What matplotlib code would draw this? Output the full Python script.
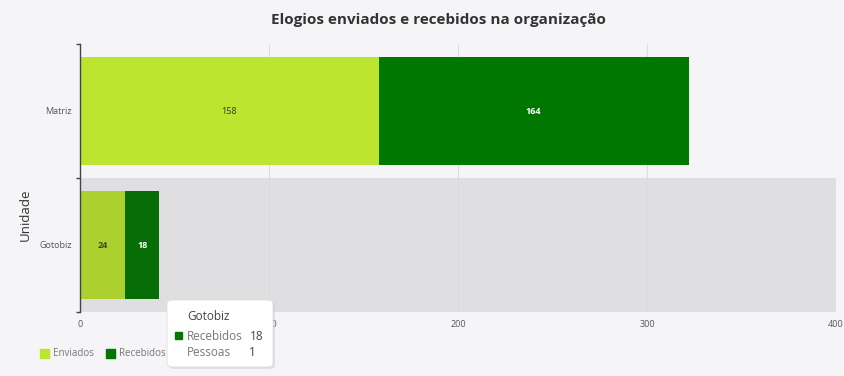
import matplotlib

matplotlib.use("Agg")

import matplotlib.pyplot as plt
from matplotlib.patches import FancyBboxPatch, Rectangle

plt.rcParams["font.family"] = ["Open Sans", "DejaVu Sans"]

units = ["Gotobiz", "Matriz"]
enviados = [24, 158]
recebidos = [18, 164]
highlighted = "Gotobiz"
x_ticks = [0, 100, 200, 300, 400]

W, H = 844, 376
BG = "#f5f5f7"


def px(x, y):
    return x / W, 1 - y / H


fig = plt.figure(figsize=(W / 100, H / 100), dpi=100, facecolor=BG)
ax = fig.add_axes([80 / W, 1 - 312 / H, 756 / W, 268 / H], facecolor=BG)

pos = list(range(len(units)))
for i, unit in enumerate(units):
    hi = unit == highlighted
    if hi:
        ax.axhspan(i - 0.5, i + 0.5, color="#dfdfe1", zorder=0, lw=0)
    c_env = "#acd02e" if hi else "#bbe52f"
    c_rec = "#076e07" if hi else "#007800"
    ax.barh(i, enviados[i], height=0.8, color=c_env, zorder=2)
    ax.barh(i, recebidos[i], left=enviados[i], height=0.8, color=c_rec, zorder=2)
    ax.text(enviados[i] / 2, i, str(enviados[i]), ha="center", va="center",
            fontsize=6.5, color="#3f4a1a" if hi else "#333333",
            fontweight="bold" if hi else "normal", zorder=3)
    ax.text(enviados[i] + recebidos[i] / 2, i, str(recebidos[i]), ha="center", va="center",
            fontsize=6.5, color="white", fontweight="bold", zorder=3)

ax.set_xlim(0, 400)
ax.set_ylim(-0.5, len(units) - 0.5)
ax.set_xticks(x_ticks)
ax.set_xticklabels([str(t) for t in x_ticks], fontsize=6.5, color="#555555")
ax.tick_params(axis="x", length=0, pad=6)
ax.grid(axis="x", color="#dcdcdc", lw=0.8, zorder=1)
ax.set_yticks(pos)
ax.set_yticklabels(units, fontsize=6.5, color="#555555")
ax.set_yticks([p - 0.5 for p in pos] + [len(units) - 0.5], minor=True)
ax.tick_params(axis="y", which="major", length=0, pad=6)
ax.tick_params(axis="y", which="minor", length=3, color="#444444", width=1)
for side in ["top", "right", "bottom"]:
    ax.spines[side].set_visible(False)
ax.spines["left"].set_color("#444444")
ax.spines["left"].set_linewidth(1)
ax.set_ylabel("Unidade", fontsize=9.5, color="#333333")
ax.yaxis.set_label_coords(-0.0635, 0.362)

fig.text(*px(438, 20), "Elogios enviados e recebidos na organização", ha="center", va="center",
         fontsize=11, fontweight="bold", color="#333333")

# legend
for lx, name, color in [(40, "Enviados", "#bbe52f"), (106, "Recebidos", "#007800")]:
    fig.patches.append(Rectangle(px(lx, 358), 9 / W, 9 / H, transform=fig.transFigure,
                                 color=color, zorder=5))
    fig.text(*px(lx + 13, 353.5), name, ha="left", va="center", fontsize=7, color="#777777")

# tooltip
fig.patches.append(FancyBboxPatch(px(169, 369), 106 / W, 67 / H, boxstyle="round,pad=0,rounding_size=0.008",
                                  transform=fig.transFigure, facecolor="#cccccc", edgecolor="none",
                                  zorder=9, alpha=0.5))
fig.patches.append(FancyBboxPatch(px(167, 367), 106 / W, 67 / H, boxstyle="round,pad=0,rounding_size=0.008",
                                  transform=fig.transFigure, facecolor="white", edgecolor="#dddddd",
                                  lw=0.6, zorder=10))
fig.text(*px(187, 316), highlighted, ha="left", va="center", fontsize=8.5, color="#444444", zorder=11)
fig.patches.append(Rectangle(px(175, 339), 7 / W, 7 / H, transform=fig.transFigure,
                             color="#007800", zorder=11))
fig.text(*px(187, 336), "Recebidos", ha="left", va="center", fontsize=8.5, color="#777777", zorder=11)
fig.text(*px(264, 336), str(recebidos[0]), ha="right", va="center", fontsize=8.5, color="#444444", zorder=11)
fig.text(*px(187, 352), "Pessoas", ha="left", va="center", fontsize=8.5, color="#777777", zorder=11)
fig.text(*px(256, 352), "1", ha="right", va="center", fontsize=8.5, color="#444444", zorder=11)

fig.savefig("out.png", dpi=100, facecolor=BG)
